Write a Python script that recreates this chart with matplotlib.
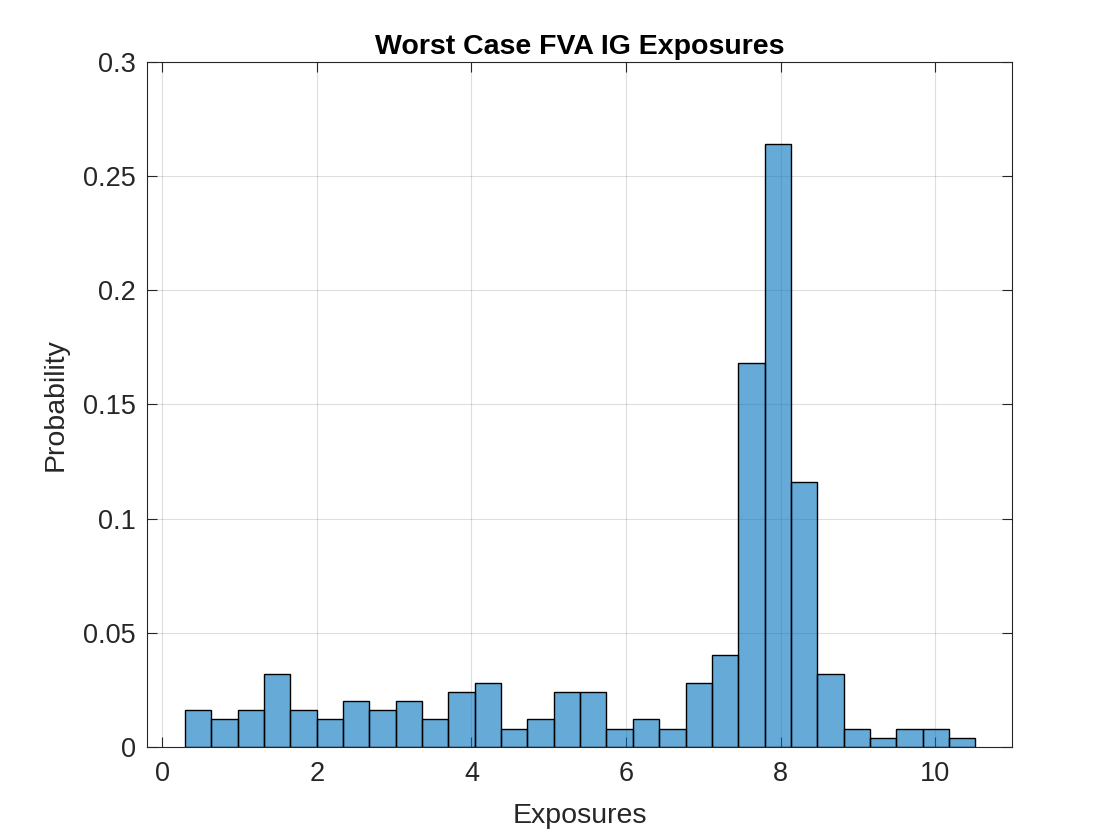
import numpy as np
import matplotlib
matplotlib.use("Agg")
import matplotlib.pyplot as plt

plt.rcParams['font.family'] = ['Liberation Sans', 'DejaVu Sans']

# histogram probabilities, 30 bins
probability = [0.016, 0.012, 0.016, 0.032, 0.016, 0.012, 0.020, 0.016, 0.020, 0.012,
               0.024, 0.028, 0.008, 0.012, 0.024, 0.024, 0.008, 0.012, 0.008, 0.028,
               0.040, 0.168, 0.264, 0.116, 0.032, 0.008, 0.004, 0.008, 0.008, 0.004]
first_edge = 0.294
last_edge = 10.52

edges = np.linspace(first_edge, last_edge, len(probability) + 1)
widths = np.diff(edges)

fig = plt.figure(figsize=(11.2, 8.4), dpi=100)
ax = fig.add_axes([0.131, 0.111, 0.773, 0.815])

ax.bar(edges[:-1], probability, width=widths, align='edge',
       color=(0.0, 0.447, 0.741, 0.6), edgecolor='black', linewidth=1.0, zorder=2)

ax.set_xlim(-0.2, 11)
ax.set_ylim(0, 0.3)
ax.set_xticks([0, 2, 4, 6, 8, 10])
ax.set_yticks([0, 0.05, 0.1, 0.15, 0.2, 0.25, 0.3])
ax.set_yticklabels(['0', '0.05', '0.1', '0.15', '0.2', '0.25', '0.3'])
ax.grid(True, color='#262626', alpha=0.15, linewidth=0.8, zorder=0)
ax.set_axisbelow(True)
ax.tick_params(direction='in', top=True, right=True, length=7, width=0.8,
               labelsize=19.5, colors='#262626')
ax.tick_params(axis='x', pad=10)
ax.tick_params(axis='y', pad=8)
for s in ax.spines.values():
    s.set_color('#262626')
    s.set_linewidth(0.8)

ax.set_title("Worst Case FVA IG Exposures", fontsize=20.5, fontweight='bold', pad=6)
ax.set_xlabel("Exposures", fontsize=20.5, color='#262626', labelpad=12)
ax.set_ylabel("Probability", fontsize=20.5, color='#262626', labelpad=10)

fig.savefig("out.png", dpi=100)
